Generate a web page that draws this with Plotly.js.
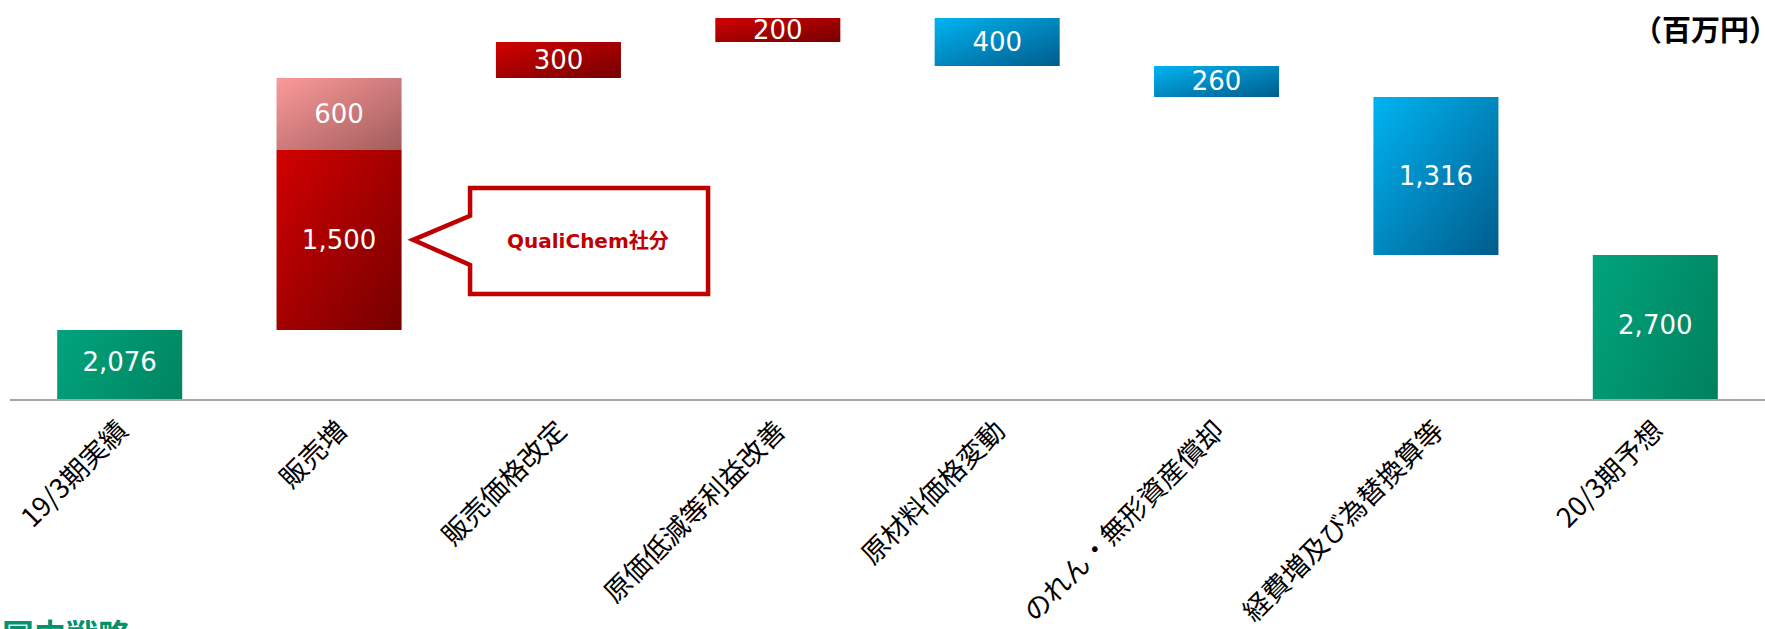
<!DOCTYPE html>
<html>
<head>
<meta charset="utf-8">
<script src="https://cdn.plot.ly/plotly-3.0.1.min.js"></script>
<style>
  html, body { margin: 0; padding: 0; background: #ffffff; }
  #chart { width: 1765px; height: 629px; }
</style>
</head>
<body>
<div id="chart"></div>
<script>
// 営業利益の増減要因（百万円）
const categories = ['19/3期実績', '販売増', '販売価格改定', '原価低減等利益改善', '原材料価格変動', 'のれん・無形資産償却', '経費増及び為替換算等', '20/3期予想'];
const actual19 = 2076;
const forecast20 = 2700;
const salesQualiChem = 1500;
const salesOther = 600;
const gainCategories = ['販売価格改定', '原価低減等利益改善'];
const gainValues = [300, 200];
const lossCategories = ['原材料価格変動', 'のれん・無形資産償却', '経費増及び為替換算等'];
const lossValues = [400, 260, 1316];
const unitLabel = '（百万円）';
const calloutLabel = 'QualiChem社分';
const footerLabel = '国内戦略';

// running totals for the floating bars
let running = actual19 + salesQualiChem + salesOther;
const gainBases = gainValues.map(v => { const b = running; running += v; return b; });
const lossBases = lossValues.map(v => { running -= v; return running; });

const yRange = [1500, 4800];
const barWidth = 0.57;
const valueFont = { family: 'DejaVu Sans, Noto Sans CJK JP', size: 26, color: '#ffffff' };

const common = {
  type: 'bar',
  width: barWidth,
  texttemplate: '%{y:,.0f}',
  textposition: 'inside',
  insidetextanchor: 'middle',
  constraintext: 'none',
  textangle: 0,
  textfont: valueFont,
  hoverinfo: 'skip',
  showlegend: false
};

const totalCats = [categories[0], categories[categories.length - 1]];
const totalVals = [actual19, forecast20];

const traces = [
  Object.assign({}, common, {
    x: totalCats, y: totalVals, texttemplate: '',
    marker: { color: '#008c68', line: { width: 0 } }
  }),
  Object.assign({}, common, {
    x: [categories[1]], y: [salesQualiChem], base: [actual19],
    marker: { color: '#a80000', line: { width: 0 } }
  }),
  Object.assign({}, common, {
    x: [categories[1]], y: [salesOther], base: [actual19 + salesQualiChem],
    marker: { color: '#d07878', line: { width: 0 } }
  }),
  Object.assign({}, common, {
    x: gainCategories, y: gainValues, base: gainBases,
    marker: { color: '#a80000', line: { width: 0 } }
  }),
  Object.assign({}, common, {
    x: lossCategories, y: lossValues, base: lossBases,
    marker: { color: '#0088c4', line: { width: 0 } }
  }),
  // totals are cut by the axis floor, so their labels sit in the visible part
  {
    type: 'scatter', mode: 'text',
    x: totalCats,
    y: totalVals.map(v => (v + yRange[0]) / 2),
    text: totalVals.map(v => v.toLocaleString('en-US')),
    textposition: 'middle center',
    textfont: valueFont,
    cliponaxis: false,
    hoverinfo: 'skip',
    showlegend: false
  }
];

// one diagonal gradient per bar trace
const gradients = [
  ['gGreen', '#00a47c', '#007352'],
  ['gRed', '#d20000', '#760000'],
  ['gPink', '#fb9a9a', '#a25c5c'],
  ['gRed2', '#d20000', '#760000'],
  ['gBlue', '#00b4f2', '#005c8c']
];

const plotH = 396.5;
const calloutY = actual19 + salesQualiChem / 2;

const layout = {
  width: 1765,
  height: 629,
  margin: { l: 10, r: 0, t: 3, b: 229.5, pad: 0 },
  paper_bgcolor: '#ffffff',
  plot_bgcolor: '#ffffff',
  barmode: 'overlay',
  xaxis: {
    type: 'category',
    categoryorder: 'array',
    categoryarray: categories,
    range: [-0.5, categories.length - 0.5],
    showline: true,
    linecolor: '#a6a6a6',
    linewidth: 2,
    ticks: '',
    tickangle: -45,
    tickfont: { family: 'Noto Sans CJK JP', size: 27, color: '#000000' },
    ticklabelstandoff: 3,
    showgrid: false,
    zeroline: false,
    automargin: false,
    fixedrange: true
  },
  yaxis: {
    range: yRange,
    showticklabels: false,
    showgrid: false,
    zeroline: false,
    showline: false,
    ticks: '',
    fixedrange: true
  },
  shapes: [{
    type: 'path',
    xref: 'x', yref: 'y',
    xsizemode: 'pixel', ysizemode: 'pixel',
    xanchor: categories[1], yanchor: calloutY,
    path: 'M131,52 L369,52 L369,-54 L131,-54 L131,-25 L74,0 L131,24 Z',
    line: { color: '#c00000', width: 4.5 },
    fillcolor: '#ffffff',
    layer: 'above'
  }],
  annotations: [
    {
      xref: 'x', yref: 'y', x: categories[1], y: calloutY,
      xshift: 249, yshift: -1, showarrow: false,
      text: '<b>' + calloutLabel + '</b>',
      font: { family: 'DejaVu Sans, Noto Sans CJK JP', size: 20, color: '#c00000' }
    },
    {
      xref: 'paper', yref: 'paper', x: (1631 - 10) / 1755, y: (399.5 - 28) / plotH,
      xanchor: 'left', yanchor: 'middle', showarrow: false,
      text: '<b>' + unitLabel + '</b>',
      font: { family: 'Noto Sans CJK JP', size: 29, color: '#000000' }
    },
    {
      xref: 'paper', yref: 'paper', x: -10 / 1755, y: (399.5 - 609) / plotH,
      xanchor: 'left', yanchor: 'top', showarrow: false,
      text: '<b>' + footerLabel + '</b>',
      font: { family: 'Noto Sans CJK JP', size: 32, color: '#00936e' }
    }
  ]
};

const gd = document.getElementById('chart');
Plotly.newPlot(gd, traces, layout, { displayModeBar: false, staticPlot: true }).then(() => {
  const NS = 'http://www.w3.org/2000/svg';
  const svg = gd.querySelector('.main-svg');
  let defs = svg.querySelector('defs');
  if (!defs) { defs = document.createElementNS(NS, 'defs'); svg.insertBefore(defs, svg.firstChild); }
  gradients.forEach(([id, c0, c1]) => {
    const g = document.createElementNS(NS, 'linearGradient');
    g.setAttribute('id', id);
    g.setAttribute('x1', '0'); g.setAttribute('y1', '0');
    g.setAttribute('x2', '1'); g.setAttribute('y2', '1');
    [[0, c0], [1, c1]].forEach(([o, c]) => {
      const s = document.createElementNS(NS, 'stop');
      s.setAttribute('offset', String(o));
      s.setAttribute('stop-color', c);
      g.appendChild(s);
    });
    defs.appendChild(g);
  });
  gd.querySelectorAll('.barlayer .trace.bars').forEach((tr, i) => {
    tr.querySelectorAll('.point path').forEach(p => { p.style.fill = 'url(#' + gradients[i][0] + ')'; });
  });
});
</script>
</body>
</html>
